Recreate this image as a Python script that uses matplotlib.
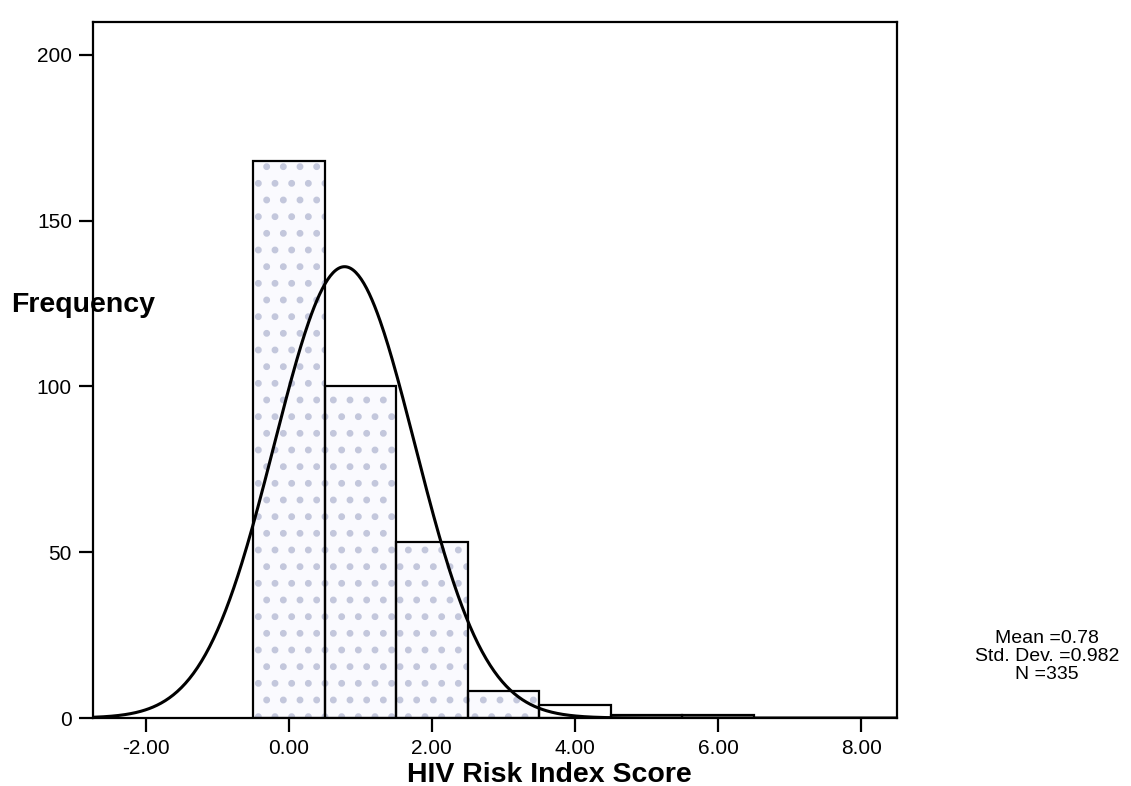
import numpy as np
import matplotlib
matplotlib.use("Agg")
import matplotlib.pyplot as plt

plt.rcParams['font.family'] = ['Liberation Sans', 'DejaVu Sans']
plt.rcParams['hatch.linewidth'] = 2.5

bin_centers = [0, 1, 2, 3, 4, 5, 6]
counts = [168, 100, 53, 8, 4, 1, 1]
mean_val = 0.78
sd_val = 0.982
n_val = 335
xticks = [-2, 0, 2, 4, 6, 8]
yticks = [0, 50, 100, 150, 200]

fig = plt.figure(figsize=(11.31, 7.86), dpi=100)
ax = fig.add_axes([0.082, 0.0865, 0.711, 0.886])

# speckled fill (hatch drawn in light colour), then black outlines
ax.bar(bin_centers[:4], counts[:4], width=1.0, facecolor='#fafafe', edgecolor='#c3c7dc',
       linewidth=0, hatch='.', zorder=2)
ax.bar(bin_centers, counts, width=1.0, facecolor='none', edgecolor='black',
       linewidth=1.6, zorder=2.5)

xlo, xhi = -2.74, 8.5
xs = np.linspace(xlo, xhi, 600)
ys = n_val * 1.0 / (sd_val * np.sqrt(2 * np.pi)) * np.exp(-0.5 * ((xs - mean_val) / sd_val) ** 2)
ax.plot(xs, ys, color='black', lw=2.2, zorder=3)

ax.set_xlim(xlo, xhi)
ax.set_ylim(0, 210)
ax.set_xticks(xticks)
ax.set_xticklabels([f"{v:.2f}" for v in xticks])
ax.set_yticks(yticks)
ax.set_yticklabels([str(v) for v in yticks])
ax.tick_params(axis='both', direction='out', length=10, width=1.6, labelsize=15, pad=5)
for s in ax.spines.values():
    s.set_linewidth(1.6)

fig.text(0.4854, 0.0145, 'HIV Risk Index Score', fontsize=20.5, fontweight='bold',
         ha='center', va='center')
fig.text(0.01, 0.612, 'Frequency', fontsize=20.5, fontweight='bold', ha='left', va='center')

fig.text(0.926, 0.165, f'Mean ={mean_val:.2f}\nStd. Dev. ={sd_val:.3f}\nN ={n_val}',
         ha='center', va='center', fontsize=14, linespacing=1.1)

fig.savefig('out.png', dpi=100)
